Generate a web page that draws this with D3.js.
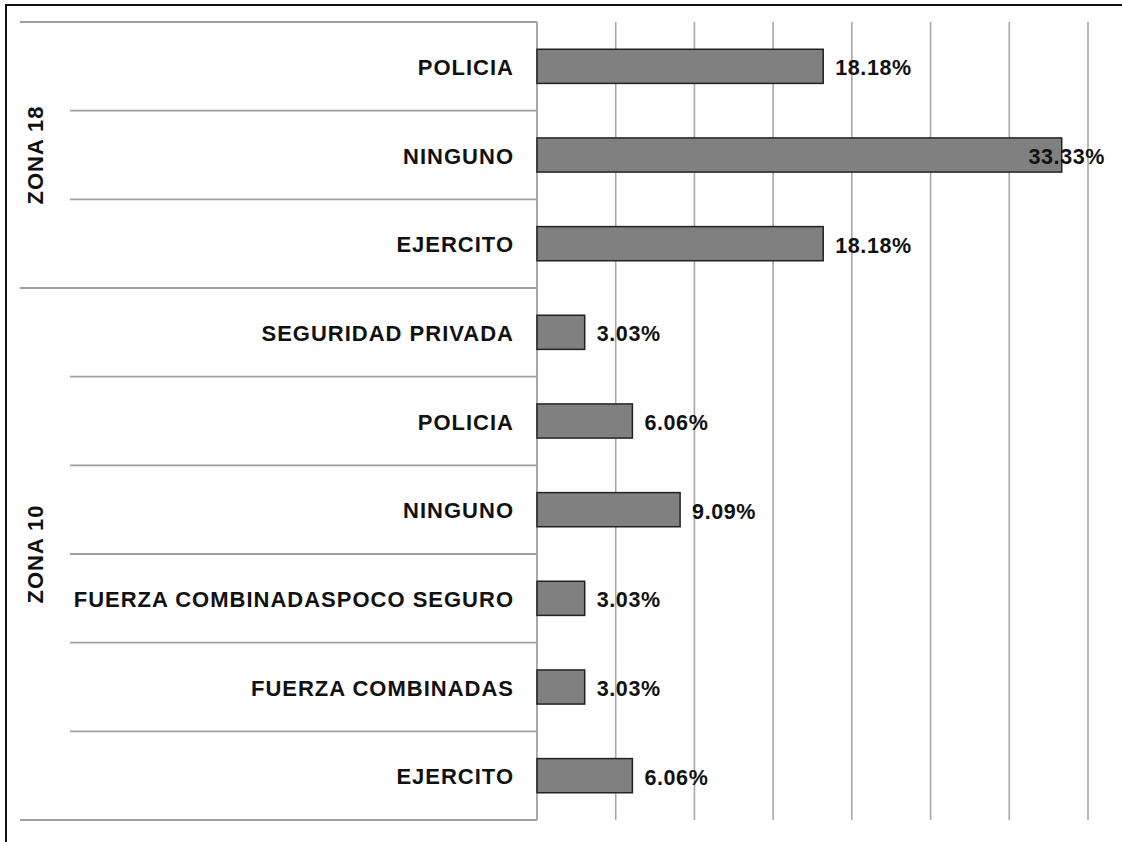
<!DOCTYPE html>
<html>
<head>
<meta charset="utf-8">
<script src="https://cdn.jsdelivr.net/npm/d3@7"></script>
<style>
  html, body { margin: 0; padding: 0; background: #fff; }
  svg { display: block; }
  text { font-family: "Liberation Sans", Arial, sans-serif; font-weight: bold; fill: #111; }
</style>
</head>
<body>
<script>
// ---- data ----
const groups = ["ZONA 18", "ZONA 10"];
const categories = [
  "POLICIA", "NINGUNO", "EJERCITO",
  "SEGURIDAD PRIVADA", "POLICIA", "NINGUNO", "FUERZA COMBINADASPOCO SEGURO", "FUERZA COMBINADAS", "EJERCITO"
];
const categoryGroup = ["ZONA 18", "ZONA 18", "ZONA 18",
  "ZONA 10", "ZONA 10", "ZONA 10", "ZONA 10", "ZONA 10", "ZONA 10"];
const values = [18.18, 33.33, 18.18, 3.03, 6.06, 9.09, 3.03, 3.03, 6.06];
const valueLabels = ["18.18%", "33.33%", "18.18%", "3.03%", "6.06%", "9.09%", "3.03%", "3.03%", "6.06%"];
const xTicks = [0, 5, 10, 15, 20, 25, 30, 35];

// ---- layout ----
const W = 1122, H = 842;
const plotLeft = 537, plotRight = 1088, plotTop = 22, plotBottom = 820;

const svg = d3.select("body").append("svg").attr("width", W).attr("height", H);

// frame (only top/left visible)
svg.append("rect").attr("x", 6).attr("y", 5).attr("width", W + 20).attr("height", H + 20)
  .attr("fill", "none").attr("stroke", "#111").attr("stroke-width", 2);

const x = d3.scaleLinear().domain([0, 35]).range([plotLeft, plotRight]);
const idx = categories.map((_, i) => i);
const y = d3.scaleBand().domain(idx).range([plotTop, plotBottom]).paddingInner(0).paddingOuter(0);
const barH = y.bandwidth() * 0.385;

// vertical gridlines
svg.append("g").selectAll("line").data(xTicks.slice(1)).join("line")
  .attr("x1", d => x(d)).attr("x2", d => x(d))
  .attr("y1", plotTop).attr("y2", plotBottom)
  .attr("stroke", "#a8a8a8").attr("stroke-width", 1.6);

// category separators
const bounds = d3.range(categories.length + 1);
svg.append("g").selectAll("line").data(bounds).join("line")
  .attr("x1", i => {
    if (i === 0 || i === categories.length) return 20;
    return categoryGroup[i] !== categoryGroup[i - 1] ? 20 : 70;
  })
  .attr("x2", plotLeft)
  .attr("y1", i => i < categories.length ? y(i) : plotBottom)
  .attr("y2", i => i < categories.length ? y(i) : plotBottom)
  .attr("stroke", "#a0a0a0").attr("stroke-width", 1.8);

// category axis line
svg.append("line").attr("x1", plotLeft).attr("x2", plotLeft)
  .attr("y1", plotTop).attr("y2", plotBottom)
  .attr("stroke", "#a0a0a0").attr("stroke-width", 1.8);

// bars
svg.append("g").selectAll("rect").data(idx).join("rect")
  .attr("x", x(0))
  .attr("y", i => y(i) + y.bandwidth() / 2 - barH / 2)
  .attr("width", i => x(values[i]) - x(0))
  .attr("height", barH)
  .attr("fill", "#808080").attr("stroke", "#222").attr("stroke-width", 1.5);

// category labels
svg.append("g").selectAll("text").data(idx).join("text")
  .attr("x", 514)
  .attr("y", i => y(i) + y.bandwidth() / 2 + 1)
  .attr("text-anchor", "end")
  .attr("dominant-baseline", "central")
  .attr("font-size", 22)
  .attr("letter-spacing", 1.0)
  .text(i => categories[i]);

// value labels
const vl = svg.append("g").selectAll("text").data(idx).join("text")
  .attr("x", i => x(values[i]) + 12)
  .attr("y", i => y(i) + y.bandwidth() / 2 + 2)
  .attr("dominant-baseline", "central")
  .attr("font-size", 21.5)
  .attr("letter-spacing", 0.6)
  .text(i => valueLabels[i]);
vl.each(function(i) {
  const len = this.getComputedTextLength();
  const limit = 1105;
  if (x(values[i]) + 12 + len > limit) d3.select(this).attr("x", limit - len);
});

// group labels
groups.forEach(g => {
  const members = idx.filter(i => categoryGroup[i] === g);
  const y0 = y(members[0]);
  const y1 = y(members[members.length - 1]) + y.bandwidth();
  const cy = (y0 + y1) / 2;
  svg.append("text")
    .attr("transform", `translate(35,${cy}) rotate(-90)`)
    .attr("text-anchor", "middle")
    .attr("dominant-baseline", "central")
    .attr("font-size", 22)
    .attr("letter-spacing", 1.0)
    .text(g);
});
</script>
</body>
</html>
